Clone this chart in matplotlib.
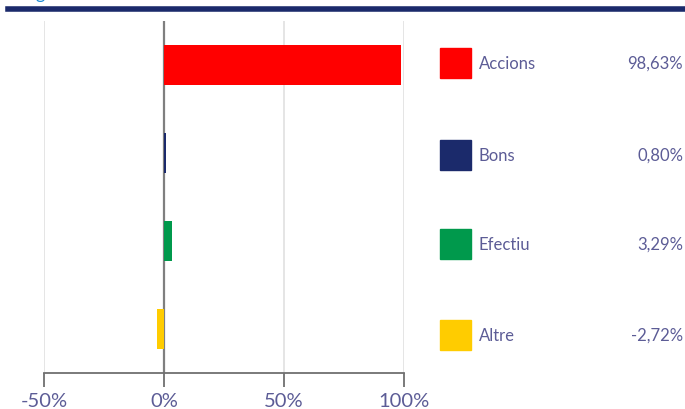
import matplotlib.pyplot as plt
from matplotlib.patches import Rectangle
from matplotlib.lines import Line2D

# dades
categories = ['Accions', 'Bons', 'Efectiu', 'Altre']
valors = [98.63, 0.80, 3.29, -2.72]
etiquetes = ['98,63%', '0,80%', '3,29%', '-2,72%']
colors = ['#ff0000', '#1b2a6b', '#00994c', '#ffcc00']
ticks = [-50, 0, 50, 100]
tick_labels = ['-50%', '0%', '50%', '100%']

text_color = '#5c5c96'
plt.rcParams['font.family'] = ['Lato', 'DejaVu Sans']

fig = plt.figure(figsize=(6.85, 4.10), dpi=100)
W, H = 685, 410
ax = fig.add_axes([44 / W, 36 / H, 360 / W, 352 / H])

pos = list(range(len(categories)))
ax.barh(pos, valors, height=0.46, color=colors, zorder=3)
ax.set_ylim(3.5, -0.5)
ax.set_xlim(-50, 100)

for t in ticks:
    if t == 0:
        ax.axvline(t, color='#7f7f7f', lw=1.6, zorder=2)
    else:
        ax.axvline(t, color='#e3e3e3', lw=1.3, zorder=1)

ax.set_xticks(ticks)
ax.set_xticklabels(tick_labels, fontsize=14.5, color=text_color)
ax.tick_params(axis='x', length=10, width=1.3, color='#707070', pad=4)
ax.set_yticks([])
for s in ['top', 'right', 'left']:
    ax.spines[s].set_visible(False)
ax.spines['bottom'].set_color('#707070')
ax.spines['bottom'].set_linewidth(1.3)

# línia superior i resta del títol tallat
fig.add_artist(Line2D([8 / W, 1], [1 - 9.5 / H, 1 - 9.5 / H], color='#1b2a6b', lw=4))
fig.text(36 / W, 1 + 1.5 / H, 'g', fontsize=13, color='#1a8ad4', va='baseline')

# llegenda
files_y = [64, 156, 245, 336]
for cat, lab, col, yy in zip(categories, etiquetes, colors, files_y):
    fig.add_artist(Rectangle((440 / W, 1 - (yy + 15) / H), 31 / W, 30 / H,
                             color=col, transform=fig.transFigure))
    fig.text(479 / W, 1 - yy / H, cat, fontsize=12, color=text_color, va='center')
    fig.text(683 / W, 1 - yy / H, lab, fontsize=12, color=text_color, va='center', ha='right')

fig.savefig('out.png', dpi=100)
